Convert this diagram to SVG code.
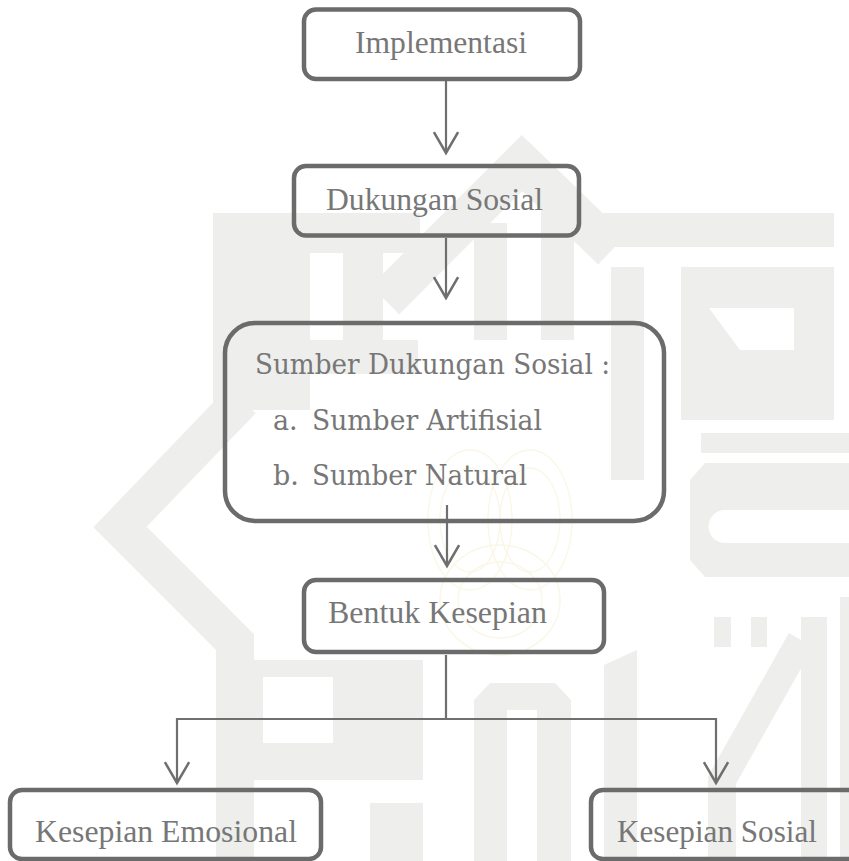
<svg xmlns="http://www.w3.org/2000/svg" width="849" height="861" viewBox="0 0 849 861">
  <style>
    .wm { fill: #eeeeec; stroke: none; }
    .wmline { fill: none; stroke: #eeeeec; stroke-linejoin: miter; }
    .logo { fill: none; stroke: #faf7e6; stroke-width: 1.4; }
    .box { fill: none; stroke: #6b6b6b; stroke-width: 4.5; }
    .conn { fill: none; stroke: #6f6f6f; stroke-width: 2.2; }
    .t { font-family: "Liberation Serif", "Times New Roman", serif; font-size: 31.5px; fill: #777777; }
    .c { font-family: "DejaVu Serif", "Liberation Serif", serif; font-size: 27px; fill: #777777; }
  </style>
  <defs>
    <marker id="arrow" markerUnits="userSpaceOnUse" markerWidth="30" markerHeight="30" refX="0" refY="0" viewBox="-20 -13 22 26" orient="auto" overflow="visible">
      <path d="M-18,-10.5 L0,0 L-18,10.5" fill="none" stroke="#6f6f6f" stroke-width="2.2"/>
    </marker>
  </defs>
  <rect x="0" y="0" width="849" height="861" fill="#ffffff"/>

  <g id="watermark">
    <polyline class="wmline" stroke-width="40" points="385,300 522,163 612,250"/>
    <rect class="wm" x="597" y="213" width="237" height="34"/>
    <rect class="wm" x="213" y="213" width="97" height="197"/>
    <rect class="wm" x="310" y="213" width="110" height="40"/>
    <rect class="wm" x="343" y="253" width="40" height="87"/>
    <rect class="wm" x="474" y="223" width="33" height="117"/>
    <rect class="wm" x="541" y="200" width="33" height="140"/>
    <rect class="wm" x="268" y="340" width="150" height="34"/>
    <polyline class="wmline" stroke-width="38" points="242,400 120,527 235,642 235,861"/>
    <path class="wm" fill-rule="evenodd" d="M253,660 L423,660 L423,780 L253,780 Z M263,677 L333,677 L333,743 L263,743 Z"/>
    <rect class="wm" x="370" y="803" width="53" height="58"/>
    <rect class="wm" x="611" y="267" width="33" height="213"/>
    <path class="wm" fill-rule="evenodd" d="M681,267 L834,267 L834,420 L681,420 Z M709,308 L794,308 L794,350 L740,350 Z"/>
    <rect class="wm" x="701" y="433" width="148" height="20"/>
    <path class="wm" fill-rule="evenodd" d="M705,463 L849,463 L849,577 L705,577 L690,560 L690,480 Z M725,510 L849,510 L849,543 L725,543 A16,16 0 0 1 725,510 Z"/>
    <rect class="wm" x="714" y="617" width="17" height="30"/>
    <rect class="wm" x="751" y="617" width="16" height="30"/>
    <rect class="wm" x="801" y="617" width="26" height="244"/>
    <polyline class="wmline" stroke-width="28" points="722,861 722,780 801,640"/>
    <rect class="wm" x="840" y="597" width="9" height="264"/>
    <polygon class="wm" points="604,665 637,650 637,861 604,861"/>
    <path class="wm" fill-rule="evenodd" d="M474,861 L474,700 L490,683 L555,683 L571,700 L571,861 Z M507,861 L507,710 L537,710 L537,861 Z"/>
    <g id="logo">
      <ellipse class="logo" cx="470" cy="520" rx="42" ry="70"/>
      <ellipse class="logo" cx="470" cy="520" rx="30" ry="52"/>
      <ellipse class="logo" cx="530" cy="520" rx="42" ry="70"/>
      <ellipse class="logo" cx="530" cy="520" rx="30" ry="52"/>
      <ellipse class="logo" cx="500" cy="600" rx="60" ry="55"/>
      <ellipse class="logo" cx="500" cy="600" rx="42" ry="38"/>
    </g>
  </g>

  <g id="connectors">
    <line class="conn" x1="446" y1="81" x2="446" y2="153" marker-end="url(#arrow)"/>
    <line class="conn" x1="446" y1="238" x2="446" y2="298" marker-end="url(#arrow)"/>
    <line class="conn" x1="447" y1="505" x2="447" y2="566" marker-end="url(#arrow)"/>
    <polyline class="conn" points="446,655 446,719 177,719 177,783" marker-end="url(#arrow)"/>
    <polyline class="conn" points="446,719 716,719 716,783" marker-end="url(#arrow)"/>
  </g>

  <g id="node-implementasi">
    <rect class="box" x="304" y="9.5" width="276" height="69.5" rx="12"/>
    <text class="t" x="355" y="53" textLength="172" lengthAdjust="spacingAndGlyphs">Implementasi</text>
  </g>

  <g id="node-dukungan">
    <rect class="box" x="294" y="166" width="285" height="69.5" rx="12"/>
    <text class="t" x="326" y="210" textLength="217" lengthAdjust="spacingAndGlyphs">Dukungan Sosial</text>
  </g>

  <g id="node-sumber">
    <rect class="box" x="225" y="323" width="439" height="198" rx="30"/>
    <text class="c" x="255" y="374" textLength="355" lengthAdjust="spacingAndGlyphs">Sumber Dukungan Sosial :</text>
    <text class="c" x="273" y="430">a.</text>
    <text class="c" x="312" y="430" textLength="230" lengthAdjust="spacingAndGlyphs">Sumber Artifisial</text>
    <text class="c" x="273" y="485">b.</text>
    <text class="c" x="312" y="485" textLength="215" lengthAdjust="spacingAndGlyphs">Sumber Natural</text>
  </g>

  <g id="node-bentuk">
    <rect class="box" x="304" y="580" width="300" height="72" rx="12"/>
    <text class="t" x="328" y="623" textLength="219" lengthAdjust="spacingAndGlyphs">Bentuk Kesepian</text>
  </g>

  <g id="node-emosional">
    <rect class="box" x="10" y="790" width="311" height="69" rx="12"/>
    <text class="t" x="35" y="842" textLength="262" lengthAdjust="spacingAndGlyphs">Kesepian Emosional</text>
  </g>

  <g id="node-sosial">
    <rect class="box" x="591" y="790" width="270" height="69" rx="12"/>
    <text class="t" x="617" y="842" textLength="200" lengthAdjust="spacingAndGlyphs">Kesepian Sosial</text>
  </g>
</svg>
